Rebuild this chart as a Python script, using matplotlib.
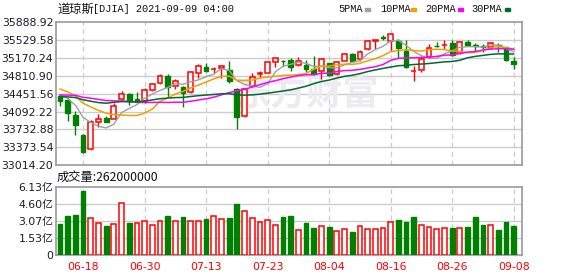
import numpy as np
import matplotlib.pyplot as plt
from matplotlib.patches import Rectangle

plt.rcParams['font.family'] = ['DejaVu Sans', 'Noto Sans CJK SC']

# trading days shown on the chart
dates = ["06-15", "06-16", "06-17", "06-18", "06-21", "06-22", "06-23", "06-24", "06-25", "06-28",
         "06-29", "06-30", "07-01", "07-02", "07-06", "07-07", "07-08", "07-09", "07-12", "07-13",
         "07-14", "07-15", "07-16", "07-19", "07-20", "07-21", "07-22", "07-23", "07-26", "07-27",
         "07-28", "07-29", "07-30", "08-02", "08-03", "08-04", "08-05", "08-06", "08-09", "08-10",
         "08-11", "08-12", "08-13", "08-16", "08-17", "08-18", "08-19", "08-20", "08-23", "08-24",
         "08-25", "08-26", "08-27", "08-30", "08-31", "09-01", "09-02", "09-03", "09-07", "09-08"]

opens = [34404, 34324, 34023, 33622, 33335, 33883, 33959, 33953, 34354, 34445,
         34340, 34310, 34525, 34671, 34812, 34615, 34579, 34479, 34860, 34992,
         34940, 34960, 34920, 34545, 34003, 34611, 34852, 34872, 35081, 35107,
         35121, 35026, 35032, 34952, 34902, 35066, 34842, 35113, 35251, 35143,
         35343, 35508, 35582, 35512, 35514, 35317, 34900, 34916, 35193, 35414,
         35422, 35462, 35267, 35492, 35418, 35408, 35391, 35432, 35381, 35107]
highs = [34430, 34370, 34094, 33640, 33913, 34039, 33997, 34254, 34495, 34471,
         34475, 34565, 34671, 34846, 34846, 34746, 34605, 34912, 35056, 35060,
         34992, 35026, 35113, 34559, 34559, 34860, 34912, 35113, 35173, 35127,
         35167, 35187, 35117, 35201, 35157, 35072, 35107, 35277, 35273, 35327,
         35528, 35522, 35628, 35662, 35542, 35522, 35000, 35207, 35454, 35478,
         35518, 35528, 35508, 35528, 35468, 35448, 35494, 35462, 35393, 35187]
lows = [34210, 33903, 33622, 33267, 33330, 33773, 33885, 33947, 34314, 34218,
        34264, 34274, 34505, 34645, 34378, 34545, 34178, 34459, 34760, 34892,
        34860, 34760, 34671, 33740, 33989, 34591, 34772, 34866, 34992, 35006,
        34900, 35012, 34876, 34826, 34739, 34806, 34816, 35097, 35093, 35113,
        35331, 35357, 35518, 35307, 35161, 34966, 34715, 34886, 35181, 35393,
        35347, 35213, 35247, 35408, 35317, 35297, 35347, 35293, 35097, 34946]
closes = [34310, 34057, 33823, 33287, 33883, 33937, 33889, 34204, 34441, 34308,
          34308, 34519, 34645, 34812, 34591, 34699, 34459, 34886, 35006, 34912,
          34952, 35006, 34711, 33977, 34539, 34792, 34866, 35087, 35161, 35097,
          34986, 35101, 34952, 34852, 35141, 34816, 35087, 35243, 35113, 35287,
          35512, 35518, 35572, 35648, 35367, 34992, 34912, 35147, 35361, 35401,
          35434, 35227, 35482, 35428, 35398, 35387, 35468, 35412, 35121, 35056]

ma5 = [34435, 34353, 34221, 33978, 33872, 33797, 33764, 33840, 34071, 34156,
       34230, 34356, 34444, 34518, 34575, 34653, 34641, 34689, 34728, 34792,
       34843, 34952, 34917, 34712, 34637, 34605, 34577, 34652, 34889, 35001,
       35039, 35086, 35059, 34998, 35006, 34972, 34970, 35028, 35080, 35109,
       35248, 35335, 35400, 35507, 35523, 35419, 35298, 35213, 35156, 35163,
       35251, 35314, 35381, 35394, 35394, 35384, 35433, 35419, 35357, 35289]
ma10 = [34544, 34488, 34410, 34261, 34185, 34116, 34059, 34030, 34024, 34014,
        34014, 34060, 34142, 34295, 34365, 34442, 34499, 34567, 34623, 34684,
        34748, 34797, 34803, 34720, 34715, 34724, 34765, 34785, 34800, 34819,
        34822, 34832, 34856, 34943, 35004, 35006, 35028, 35044, 35039, 35058,
        35110, 35152, 35214, 35294, 35316, 35334, 35316, 35307, 35332, 35343,
        35335, 35306, 35297, 35275, 35278, 35318, 35373, 35400, 35376, 35341]
ma20 = [34424, 34423, 34418, 34378, 34360, 34336, 34314, 34307, 34305, 34293,
        34279, 34274, 34276, 34278, 34275, 34279, 34279, 34299, 34324, 34349,
        34381, 34428, 34473, 34507, 34540, 34583, 34632, 34676, 34712, 34751,
        34785, 34814, 34830, 34832, 34859, 34865, 34896, 34914, 34920, 34938,
        34966, 34992, 35035, 35119, 35160, 35170, 35172, 35175, 35185, 35200,
        35223, 35229, 35256, 35284, 35297, 35326, 35345, 35353, 35354, 35342]
ma30 = [34390, 34387, 34373, 34330, 34299, 34272, 34259, 34278, 34292, 34289,
        34287, 34302, 34326, 34350, 34362, 34372, 34376, 34394, 34411, 34423,
        34435, 34448, 34452, 34425, 34422, 34427, 34441, 34461, 34483, 34505,
        34528, 34563, 34600, 34653, 34695, 34724, 34764, 34798, 34821, 34853,
        34894, 34927, 34958, 34986, 35012, 35021, 35036, 35045, 35057, 35073,
        35089, 35097, 35122, 35171, 35199, 35219, 35239, 35250, 35249, 35247]

# volume in 亿 (1e8 shares)
volumes = [2.82, 3.54, 3.63, 5.77, 3.31, 2.89, 2.62, 2.80, 4.67, 2.91,
           2.89, 3.07, 2.71, 3.07, 3.51, 3.07, 3.42, 3.07, 3.07, 3.24,
           3.51, 3.24, 3.33, 4.58, 3.96, 3.33, 2.98, 3.15, 2.71, 3.42,
           3.54, 2.26, 2.91, 2.44, 2.62, 2.53, 2.17, 2.35, 2.11, 2.62,
           2.35, 2.35, 2.44, 2.98, 3.18, 2.98, 3.45, 2.71, 2.53, 2.35,
           2.44, 2.44, 2.44, 2.53, 3.42, 2.71, 2.71, 2.26, 2.98, 2.62]
vol_up = [0, 0, 0, 0, 1, 1, 0, 1, 1, 0,
          1, 1, 1, 1, 0, 1, 0, 1, 1, 0,
          1, 1, 0, 0, 1, 1, 1, 1, 1, 0,
          0, 1, 0, 0, 1, 0, 1, 1, 0, 1,
          1, 1, 1, 1, 0, 0, 0, 1, 1, 1,
          1, 0, 1, 0, 0, 0, 1, 0, 0, 0]

tick_dates = ["06-18", "06-30", "07-13", "07-23", "08-04", "08-16", "08-26", "09-08"]
price_min, price_max = 33014.20, 35888.92
vol_max = 6.13
vol_labels = ["0", "1.53亿", "3.07亿", "4.60亿", "6.13亿"]

RED = "#ff0000"
GREEN = "#008000"
GRID = "#cccccc"
FRAME = "#999999"

W, H = 578, 276
fig = plt.figure(figsize=(W / 100, H / 100), dpi=100)
ax = fig.add_axes([56 / W, 1 - 165.3 / H, 466 / W, 143.3 / H])
axv = fig.add_axes([56 / W, 1 - 255.3 / H, 466 / W, 68.8 / H])

x = np.arange(len(dates))
tick_pos = [dates.index(d) for d in tick_dates]
bw = 0.62

for a in (ax, axv):
    a.set_xlim(-0.52, len(dates) + 0.08)
    for s in a.spines.values():
        s.set_color(FRAME)
        s.set_linewidth(1.2)
    a.tick_params(length=0, labelsize=7.8, pad=2, colors="#1a1a2e")
    for p in tick_pos:
        a.axvline(p, color=GRID, lw=0.9, ls=(0, (4, 3)), zorder=0)

# price panel
ax.set_ylim(price_min, price_max)
yt = np.linspace(price_min, price_max, 9)
ax.set_yticks(yt)
ax.set_yticklabels(["%.2f" % v for v in yt])
for v in yt[1:-1]:
    ax.axhline(v, color=GRID, lw=1, zorder=0)
ax.set_xticks([])

ax.text(0.54, 0.5, "东方财富", transform=ax.transAxes, fontsize=26, fontweight="bold",
        color="#ececf0", family=["Noto Sans CJK SC"], ha="center", va="center", zorder=0.5)

for i in x:
    o, h, l, c = opens[i], highs[i], lows[i], closes[i]
    top, bot = max(o, c), min(o, c)
    if c >= o:
        ax.vlines(i, top, h, color=RED, lw=1, zorder=3)
        ax.vlines(i, l, bot, color=RED, lw=1, zorder=3)
        ax.add_patch(Rectangle((i - bw / 2, bot), bw, max(top - bot, 1), facecolor="white",
                               edgecolor=RED, lw=1.1, zorder=4))
    else:
        ax.vlines(i, l, h, color=GREEN, lw=1, zorder=3)
        ax.add_patch(Rectangle((i - bw / 2, bot), bw, max(top - bot, 1), facecolor=GREEN,
                               edgecolor=GREEN, lw=1, zorder=4))

ax.plot(x, ma5, color="#a0a0a0", lw=1, zorder=5)
ax.plot(x, ma10, color="#f0a000", lw=1.1, zorder=5)
ax.plot(x, ma20, color="#ff00ff", lw=1.1, zorder=5)
ax.plot(x, ma30, color="#006a30", lw=1.1, zorder=5)

# volume panel
axv.set_ylim(0, vol_max)
vt = np.linspace(0, vol_max, 5)
axv.set_yticks(vt)
axv.set_yticklabels(vol_labels)
for v in vt[1:-1]:
    axv.axhline(v, color=GRID, lw=1, zorder=0)
axv.set_xticks(tick_pos)
axv.set_xticklabels(tick_dates, color=RED, fontsize=7.8)
axv.tick_params(axis="x", pad=5, labelcolor=RED)

for i in x:
    if vol_up[i]:
        axv.add_patch(Rectangle((i - bw / 2, 0), bw, volumes[i], facecolor="white",
                                edgecolor=RED, lw=1.1, zorder=3))
    else:
        axv.add_patch(Rectangle((i - bw / 2, 0), bw, volumes[i], facecolor=GREEN,
                                edgecolor=GREEN, lw=1, zorder=3))

# header texts
fig.text(57 / W, 1 - 9 / H, "道琼斯", fontsize=8.8,
         family=["Noto Sans CJK SC"], va="center", ha="left", color="#111111")
fig.text(93 / W, 1 - 9.5 / H, "[DJIA] 2021-09-09 04:00", fontsize=7.4,
         family=["Liberation Mono"], va="center", ha="left", color="#111111")
fig.text(57 / W, 1 - 177 / H, "成交量:262000000", fontsize=8.8,
         family=["Noto Sans CJK SC"], va="center", ha="left", color="#111111")

legend = [("5PMA", 338, 365, "#a0a0a0"), ("10PMA", 380, 411, "#f0a000"),
          ("20PMA", 425, 458, "#ff00ff"), ("30PMA", 471, 505, "#006a30")]
for label, px, mx, col in legend:
    fig.text(px / W, 1 - 9.5 / H, label, fontsize=7.4, family=["Liberation Mono"],
             va="center", ha="left", color="#111111")
    fig.add_artist(Rectangle((mx / W, 1 - 11 / H), 5 / W, 3.5 / H,
                             transform=fig.transFigure, color=col))

fig.savefig("out.png", dpi=100)
